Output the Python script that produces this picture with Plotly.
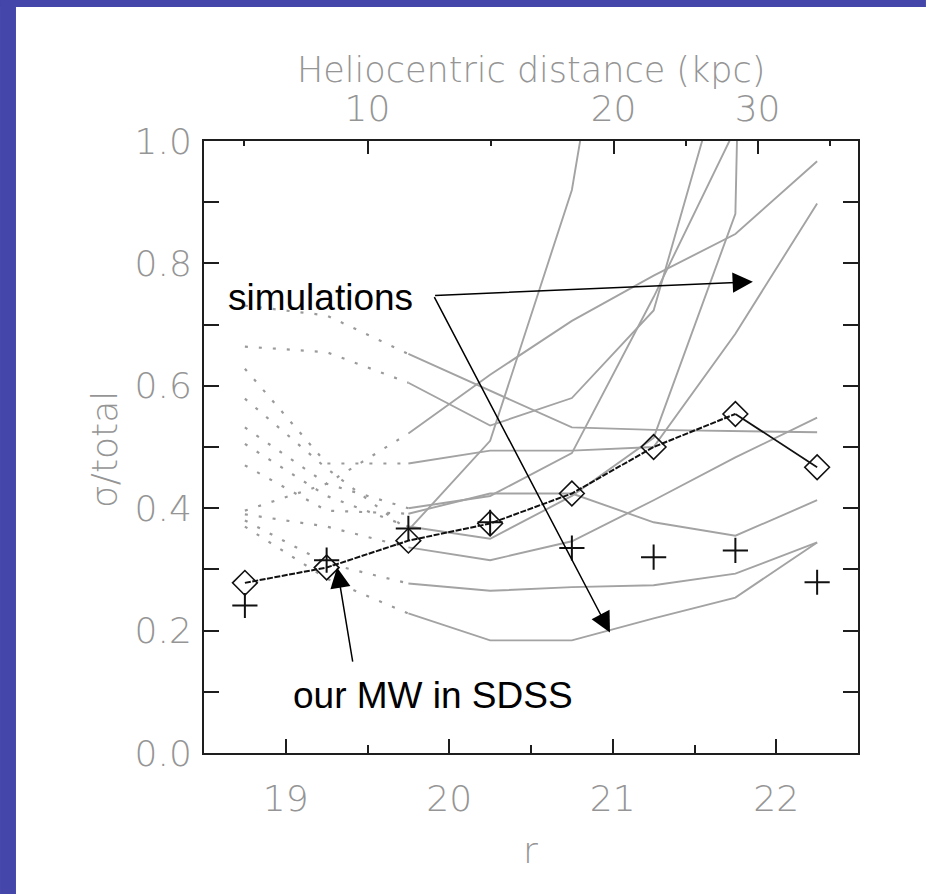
import plotly.graph_objects as go

# r magnitude bins
r_bins = [18.75, 19.25, 19.75, 20.25, 20.75, 21.25, 21.75, 22.25]

# simulated sigma/total curves (values at r_bins); first 3 points drawn dotted, rest solid
sim_curves = [
    [0.731, 0.715, 0.652, 0.592, 0.532, 0.528, 0.526, 0.524],
    [0.664, 0.655, 0.605, 0.535, 0.580, 0.723, 1.190, 1.700],
    [0.396, 0.440, 0.522, 0.618, 0.706, 0.780, 0.848, 0.967],
    [0.628, 0.473, 0.473, 0.494, 0.494, 0.500, 0.685, 0.898],
    [0.579, 0.465, 0.364, 0.510, 0.920, 1.700, 2.500, 3.300],
    [0.532, 0.440, 0.400, 0.420, 0.490, 0.745, 1.020, 1.300],
    [0.505, 0.420, 0.370, 0.350, 0.420, 0.515, 0.881, 7.000],
    [0.470, 0.396, 0.391, 0.424, 0.424, 0.377, 0.355, 0.413],
    [0.390, 0.370, 0.336, 0.315, 0.346, 0.413, 0.483, 0.548],
    [0.380, 0.310, 0.277, 0.265, 0.271, 0.274, 0.293, 0.344],
    [0.370, 0.285, 0.228, 0.184, 0.184, 0.220, 0.254, 0.344],
]

# our MW in SDSS
mw_diamond = [0.278, 0.303, 0.347, 0.375, 0.424, 0.500, 0.554, 0.467]
mw_cross = [0.241, 0.315, 0.367, 0.377, 0.335, 0.320, 0.331, 0.279]

# top axis: heliocentric distance ticks (r = 19.5 + 5 log10(d / 10 kpc))
helio_labels = ["10", "20", "30"]
helio_r = [19.5, 21.005, 21.886]
helio_minor_r = [18.747, 20.253, 21.446, 22.327]

y_ticks = [0.0, 0.2, 0.4, 0.6, 0.8, 1.0]
y_ticklabels = ["0.0", "0.2", "0.4", "0.6", "0.8", "1.0"]
x_ticks = [19, 20, 21, 22]

GRAY = "#a3a3a3"
LBL = "#959595"
FONT = "DejaVu Sans"
AX = "#1e1e1e"
BORDER = "#4446aa"

fig = go.Figure()

for c in sim_curves:
    fig.add_trace(go.Scatter(x=r_bins[:3], y=c[:3], mode="lines",
                             line=dict(color="#9a9a9a", width=2.2, dash="3px,11px"),
                             hoverinfo="skip", showlegend=False))
    fig.add_trace(go.Scatter(x=r_bins[2:], y=c[2:], mode="lines",
                             line=dict(color=GRAY, width=1.9),
                             hoverinfo="skip", showlegend=False))

# MW line: densely dashed up to 21.75, solid last segment
fig.add_trace(go.Scatter(x=r_bins[:7], y=mw_diamond[:7], mode="lines",
                         line=dict(color="#111111", width=2, dash="6px,1.5px"),
                         hoverinfo="skip", showlegend=False))
fig.add_trace(go.Scatter(x=r_bins[6:], y=mw_diamond[6:], mode="lines",
                         line=dict(color="#111111", width=1.8),
                         hoverinfo="skip", showlegend=False))
fig.add_trace(go.Scatter(x=r_bins, y=mw_diamond, mode="markers",
                         marker=dict(symbol="diamond-open", size=19, color="#111111",
                                     line=dict(width=1.6, color="#111111")),
                         showlegend=False))
fig.add_trace(go.Scatter(x=r_bins, y=mw_cross, mode="markers",
                         marker=dict(symbol="cross-thin-open", size=18, color="#111111",
                                     line=dict(width=2, color="#111111")),
                         showlegend=False))

# dummy trace for top axis
fig.add_trace(go.Scatter(x=[18.5, 22.5], y=[None, None], xaxis="x2", showlegend=False,
                         hoverinfo="skip"))

tfont = dict(family=FONT, size=36, color=LBL, weight=200)
annots = [
    dict(x=19.215, y=0.744, xref="x", yref="y", text="simulations", showarrow=False,
         xanchor="center", yanchor="middle",
         font=dict(family="Liberation Sans", size=37, color="black")),
    dict(x=19.899, y=0.094, xref="x", yref="y", text="our MW in SDSS", showarrow=False,
         xanchor="center", yanchor="middle",
         font=dict(family="Liberation Sans", size=37, color="black")),
    dict(x=0.5004, y=1.1160, xref="paper", yref="paper", text="Heliocentric distance (kpc)",
         showarrow=False, xanchor="center", yanchor="middle",
         font=dict(family=FONT, size=35, color=LBL, weight=200)),
    dict(x=0.4985, y=-0.1585, xref="paper", yref="paper", text="r",
         showarrow=False, xanchor="center", yanchor="middle", font=tfont),
    dict(x=-0.1529, y=0.495, xref="paper", yref="paper", text="σ/total", textangle=-90,
         showarrow=False, xanchor="center", yanchor="middle", font=tfont),
]
arrow_common = dict(xref="x", yref="y", axref="x", ayref="y", text="", showarrow=True,
                    arrowhead=2, arrowsize=2.7, arrowwidth=1.5, arrowcolor="black")
annots.append(dict(x=21.857, y=0.770, ax=19.904, ay=0.7475, **arrow_common))
annots.append(dict(x=20.983, y=0.197, ax=19.904, ay=0.7475, **arrow_common))
annots.append(dict(x=19.314, y=0.303, ax=19.411, ay=0.147, **arrow_common))

fig.update_layout(
    width=926, height=894, autosize=False,
    margin=dict(l=204, r=68, t=141, b=141, pad=0),
    paper_bgcolor="white", plot_bgcolor="white",
    annotations=annots,
    xaxis=dict(range=[18.5, 22.5], tickvals=x_ticks, ticks="inside", ticklen=14,
               tickwidth=2, tickcolor=AX, showline=True, linecolor=AX, linewidth=2,
               mirror=False, showgrid=False, zeroline=False,
               tickfont=tfont, ticklabelstandoff=13,
               minor=dict(tickvals=[18.5, 19.5, 20.5, 21.5], ticks="inside", ticklen=8,
                          tickwidth=2, tickcolor=AX)),
    xaxis2=dict(range=[18.5, 22.5], overlaying="x", side="top", tickvals=helio_r,
                ticktext=helio_labels, ticks="inside", ticklen=13, tickwidth=2, tickcolor=AX,
                showline=True, linecolor=AX, linewidth=2, showgrid=False, zeroline=False,
                tickfont=tfont, ticklabelstandoff=4,
                minor=dict(tickvals=helio_minor_r, ticks="inside", ticklen=5, tickwidth=2,
                           tickcolor=AX)),
    yaxis=dict(range=[0, 1], tickvals=y_ticks, ticktext=y_ticklabels, ticks="inside",
               ticklen=15, tickwidth=2, tickcolor=AX, showline=True, linecolor=AX,
               linewidth=2, mirror="allticks", showgrid=False, zeroline=False,
               tickfont=tfont, ticklabelstandoff=3,
               minor=dict(tickvals=[0.1, 0.3, 0.5, 0.7, 0.9], ticks="inside", ticklen=15,
                          tickwidth=2, tickcolor=AX)),
    shapes=[
        dict(type="rect", xref="paper", yref="paper", x0=-0.3119, x1=-0.2875,
             y0=-0.2303, y1=1.2303, fillcolor=BORDER, line=dict(width=0), layer="above"),
        dict(type="rect", xref="paper", yref="paper", x0=-0.3119, x1=1.1039,
             y0=1.2190, y1=1.2303, fillcolor=BORDER, line=dict(width=0), layer="above"),
    ],
)

fig.write_html("out.html")
